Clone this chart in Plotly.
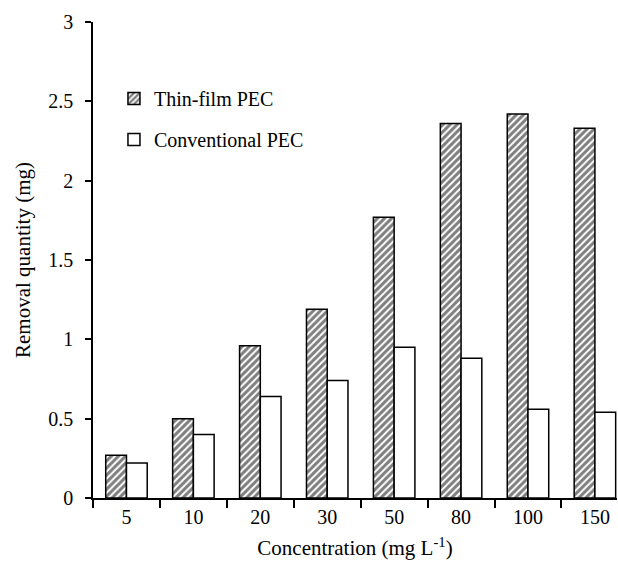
import plotly.graph_objects as go

categories = ["5", "10", "20", "30", "50", "80", "100", "150"]
thin_film = [0.27, 0.50, 0.96, 1.19, 1.77, 2.36, 2.42, 2.33]
conventional = [0.22, 0.40, 0.64, 0.74, 0.95, 0.88, 0.56, 0.54]
y_ticks = [0, 0.5, 1, 1.5, 2, 2.5, 3]
y_tick_labels = ["0", "0.5", "1", "1.5", "2", "2.5", "3"]

font_family = "Liberation Serif, Times New Roman, serif"

fig = go.Figure()
fig.add_trace(go.Bar(
    x=categories, y=thin_film, name="Thin-film PEC", legendgroup="a",
    marker=dict(color="white", line=dict(color="black", width=1.5),
                pattern=dict(shape="/", fgcolor="black", bgcolor="white",
                             size=5, solidity=0.6, fillmode="overlay")),
))
fig.add_trace(go.Bar(
    x=categories, y=conventional, name="Conventional PEC", legendgroup="b",
    marker=dict(color="white", line=dict(color="black", width=1.5)),
))

fig.update_layout(
    width=618, height=564,
    margin=dict(l=93, r=1, t=22, b=66),
    paper_bgcolor="white", plot_bgcolor="white",
    font=dict(family=font_family, size=20, color="black"),
    barmode="group", bargap=0.38, bargroupgap=0,
    legend=dict(x=0.04, y=0.88, xanchor="left", yanchor="top",
                font=dict(size=20), bgcolor="rgba(0,0,0,0)",
                traceorder="grouped", tracegroupgap=12, itemwidth=30),
    showlegend=True,
)
fig.update_xaxes(
    type="category", range=[-0.5, 7.33],
    showline=True, linecolor="black", linewidth=1.5,
    ticks="outside", tickson="boundaries", ticklen=8, tickwidth=1.5, tickcolor="black",
    showgrid=False, zeroline=False,
    tickfont=dict(size=20),
    title=dict(text="Concentration (mg L<sup>-1</sup>)", font=dict(size=21), standoff=14),
)
fig.update_yaxes(
    range=[0, 3], tickvals=y_ticks, ticktext=y_tick_labels,
    showline=True, linecolor="black", linewidth=1.5,
    ticks="outside", ticklen=6, tickwidth=1.5, tickcolor="black",
    showgrid=False, zeroline=False,
    tickfont=dict(size=20), ticklabelstandoff=8,
    title=dict(text="Removal quantity (mg)", font=dict(size=21), standoff=12),
)

fig.write_html("out.html")
